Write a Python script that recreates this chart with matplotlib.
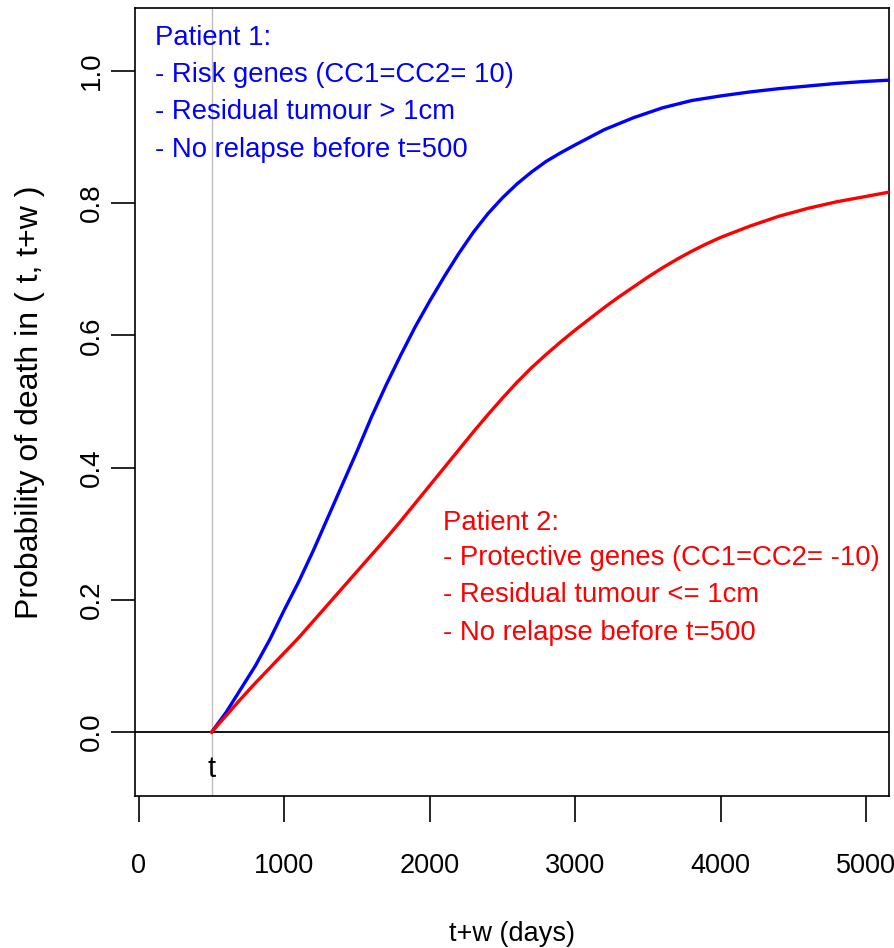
import matplotlib
matplotlib.use("Agg")
import matplotlib.pyplot as plt

# ---- data ----
blue_x = [500, 600, 700, 800, 900, 1000, 1100, 1200, 1300, 1400, 1500, 1600,
          1700, 1800, 1900, 2000, 2100, 2200, 2300, 2400, 2500, 2600, 2700,
          2800, 2900, 3000, 3200, 3400, 3600, 3800, 4000, 4200, 4400, 4600,
          4800, 5000, 5170]
blue_y = [0.0, 0.030, 0.065, 0.100, 0.140, 0.185, 0.228, 0.275, 0.325, 0.375,
          0.425, 0.477, 0.525, 0.570, 0.613, 0.652, 0.689, 0.724, 0.756, 0.784,
          0.808, 0.829, 0.847, 0.863, 0.876, 0.888, 0.911, 0.929, 0.944, 0.955,
          0.962, 0.968, 0.973, 0.977, 0.981, 0.984, 0.986]
red_x = [500, 600, 700, 800, 900, 1000, 1100, 1200, 1300, 1400, 1500, 1600,
         1700, 1800, 1900, 2000, 2100, 2200, 2300, 2400, 2500, 2600, 2700,
         2800, 2900, 3000, 3100, 3200, 3300, 3400, 3500, 3600, 3700, 3800,
         3900, 4000, 4200, 4400, 4600, 4800, 5000, 5170]
red_y = [0.0, 0.025, 0.050, 0.074, 0.097, 0.120, 0.143, 0.168, 0.193, 0.218,
         0.243, 0.268, 0.293, 0.319, 0.346, 0.373, 0.400, 0.427, 0.454, 0.480,
         0.505, 0.529, 0.551, 0.571, 0.590, 0.608, 0.625, 0.642, 0.658, 0.673,
         0.688, 0.702, 0.715, 0.727, 0.738, 0.748, 0.765, 0.780, 0.792, 0.802,
         0.810, 0.817]
t0 = 500
x_ticks = [0, 1000, 2000, 3000, 4000, 5000]
y_ticks = [0.0, 0.2, 0.4, 0.6, 0.8, 1.0]
y_tick_labels = ["0.0", "0.2", "0.4", "0.6", "0.8", "1.0"]
p1_lines = ["Patient 1:", "- Risk genes (CC1=CC2= 10)",
            "- Residual tumour > 1cm", "- No relapse before t=500"]
p2_lines = ["Patient 2:", "- Protective genes (CC1=CC2= -10)",
            "- Residual tumour <= 1cm", "- No relapse before t=500"]

REG = ["Liberation Sans", "DejaVu Sans"]

fig = plt.figure(figsize=(8.95, 9.48), dpi=100)
ax = fig.add_axes([135 / 895, 1 - 796 / 948, (889 - 135) / 895, (796 - 8) / 948])

ax.set_xlim(-27.5, 5158)
ax.set_ylim(-0.0968, 1.095)

ax.axvline(t0, color="#bebebe", lw=1.0, zorder=1)
ax.axhline(0, color="black", lw=1.3, zorder=2)
ax.plot(blue_x, blue_y, color="#0000ff", lw=2.4, zorder=3)
ax.plot(red_x, red_y, color="#ff0000", lw=2.4, zorder=3)

for s in ax.spines.values():
    s.set_linewidth(1.2)
    s.set_color("black")

ax.set_xticks(x_ticks)
ax.set_xticklabels([str(v) for v in x_ticks], fontfamily=REG, fontsize=19.5)
ax.set_yticks(y_ticks)
ax.set_yticklabels(y_tick_labels, fontfamily=REG, fontsize=20)
ax.tick_params(axis="x", direction="out", length=19, width=1.2, pad=22)
ax.tick_params(axis="y", direction="out", length=17, width=1.2, pad=5)
for lab in ax.get_yticklabels():
    lab.set_rotation(90)
    lab.set_va("center")
    lab.set_ha("right")

ax.set_xlabel("t+w (days)", fontfamily=REG, fontsize=19.5, labelpad=30)
ax.set_ylabel("Probability of death in ( t, t+w )", fontfamily=REG,
              fontsize=23, labelpad=24)

ax.text(t0, -0.056, "t", ha="center", va="center", fontfamily=REG,
        fontsize=21, color="black")

p1_y = [1.039, 0.983, 0.927, 0.870]
for txt, yy in zip(p1_lines, p1_y):
    ax.text(110, yy, txt, ha="left", va="baseline", color="#0000ff",
            fontfamily=REG, fontsize=19.8)
p2_y = [0.3056, 0.2526, 0.1967, 0.1392]
for txt, yy in zip(p2_lines, p2_y):
    ax.text(2091, yy, txt, ha="left", va="baseline", color="#ff0000",
            fontfamily=REG, fontsize=19.8)

fig.savefig("out.png", dpi=100)
